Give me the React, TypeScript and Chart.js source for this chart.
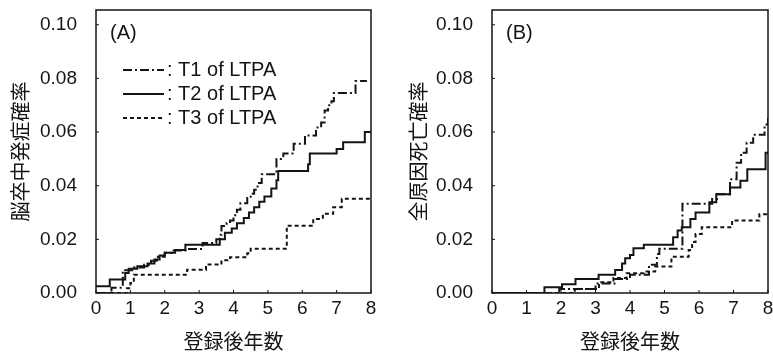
import React, { useEffect, useRef } from "react";
import { Chart, registerables } from "chart.js";
Chart.register(...registerables);

// ---- axes ----
const xTicks = [0, 1, 2, 3, 4, 5, 6, 7, 8];
const yTicks = [0, 0.02, 0.04, 0.06, 0.08, 0.1];
const xTitle = "登録後年数";
const yTitleA = "脳卒中発症確率";
const yTitleB = "全原因死亡確率";
const panelA = "(A)";
const panelB = "(B)";
const seriesLabels = ["T1 of LTPA", "T2 of LTPA", "T3 of LTPA"];

// ---- Panel A: stroke incidence ----
const aT1x = [0, 0.45, 0.78, 1.1, 1.4, 1.6, 1.8, 2.0, 2.2, 2.6, 3.1, 3.5, 3.6, 3.65, 3.8, 3.9, 4.0, 4.1, 4.2, 4.4, 4.5, 4.6, 4.7, 4.82, 5.25, 5.45, 5.75, 6.08, 6.4, 6.55, 6.65, 6.75, 6.85, 6.92, 7.55, 7.88];
const aT1y = [0, 0.002, 0.0085, 0.0095, 0.0105, 0.012, 0.0135, 0.015, 0.0158, 0.0164, 0.0186, 0.02, 0.0217, 0.025, 0.026, 0.027, 0.029, 0.031, 0.0335, 0.0354, 0.037, 0.0385, 0.041, 0.0443, 0.05, 0.052, 0.0556, 0.0587, 0.0617, 0.0636, 0.068, 0.07, 0.0715, 0.0746, 0.079, 0.079];
const aT2x = [0, 0.4, 0.85, 0.95, 1.2, 1.5, 1.7, 1.85, 2.0, 2.3, 2.6, 3.6, 3.75, 3.95, 4.1, 4.3, 4.45, 4.6, 4.75, 4.9, 5.1, 5.25, 5.3, 6.17, 6.22, 7.0, 7.19, 7.82, 8];
const aT2y = [0.0025, 0.005, 0.0075, 0.009, 0.01, 0.011, 0.0125, 0.014, 0.015, 0.016, 0.018, 0.02, 0.0225, 0.024, 0.026, 0.028, 0.03, 0.032, 0.034, 0.036, 0.039, 0.042, 0.0455, 0.048, 0.052, 0.0537, 0.0562, 0.06, 0.06];
const aT3x = [0, 0.9, 1.0, 1.1, 2.65, 3.2, 3.65, 3.9, 4.4, 4.5, 5.55, 6.32, 6.6, 6.9, 7.15, 8];
const aT3y = [0, 0.0018, 0.0037, 0.0068, 0.0087, 0.0106, 0.0122, 0.0133, 0.0148, 0.0165, 0.0251, 0.0276, 0.0295, 0.032, 0.0351, 0.0351];

// ---- Panel B: all-cause mortality ----
const bT1x = [0, 1.95, 3.0, 3.55, 4.0, 4.55, 4.78, 4.85, 5.52, 6.38, 6.52, 6.9, 7.09, 7.22, 7.38, 7.57, 7.9, 8];
const bT1y = [0, 0.0015, 0.0035, 0.0052, 0.0068, 0.0105, 0.0145, 0.0165, 0.0333, 0.035, 0.0368, 0.0424, 0.0486, 0.0523, 0.056, 0.059, 0.0628, 0.0654];
const bT2x = [0, 1.52, 2.03, 2.42, 3.09, 3.57, 3.77, 3.86, 4.0, 4.1, 4.4, 5.25, 5.38, 5.5, 5.75, 5.9, 6.3, 6.5, 6.9, 7.2, 7.4, 7.93, 8];
const bT2y = [0, 0.0021, 0.0033, 0.0052, 0.0068, 0.0086, 0.011, 0.013, 0.0142, 0.0167, 0.018, 0.0208, 0.0233, 0.0245, 0.0276, 0.03, 0.0338, 0.0368, 0.0393, 0.0418, 0.0461, 0.0523, 0.0523];
const bT3x = [0, 2.4, 3.1, 3.52, 3.9, 4.4, 4.73, 5.2, 5.7, 5.8, 5.9, 6.08, 6.96, 7.75, 8];
const bT3y = [0, 0.0015, 0.004, 0.0056, 0.0074, 0.008, 0.0099, 0.0135, 0.016, 0.019, 0.022, 0.0245, 0.027, 0.0294, 0.0294];

const INK = "#141414";
const FONT = "'Liberation Sans', Arial, sans-serif";
const CJK = "'Noto Sans CJK JP', sans-serif";
const dashes = [[9, 3, 2, 3], [], [4, 3]];

const pts = (xs: number[], ys: number[]) => xs.map((x, i) => ({ x, y: ys[i] }));

const framePlugin = {
  id: "frame",
  afterDraw(chart: any, _args: any, opts: any) {
    const { ctx, chartArea: a, scales } = chart;
    ctx.save();
    ctx.strokeStyle = INK;
    ctx.lineWidth = 1.5;
    ctx.setLineDash([]);
    ctx.strokeRect(a.left, a.top, a.right - a.left, a.bottom - a.top);
    ctx.lineWidth = 1;
    scales.x.ticks.forEach((t: any) => {
      const px = scales.x.getPixelForValue(t.value);
      ctx.beginPath();
      ctx.moveTo(px, a.bottom);
      ctx.lineTo(px, a.bottom - 3);
      ctx.stroke();
    });
    scales.y.ticks.forEach((t: any) => {
      const py = scales.y.getPixelForValue(t.value);
      ctx.beginPath();
      ctx.moveTo(a.left, py);
      ctx.lineTo(a.left + 3, py);
      ctx.stroke();
    });
    ctx.fillStyle = INK;
    ctx.textBaseline = "middle";
    ctx.textAlign = "left";
    ctx.font = `20px ${FONT}`;
    ctx.fillText(opts.panel, a.left + 14, a.top + 23);
    if (opts.legend) {
      ctx.font = `20px ${FONT}`;
      chart.data.datasets.forEach((ds: any, i: number) => {
        const y = a.top + 60 + i * 24;
        ctx.lineWidth = 2;
        ctx.setLineDash(ds.borderDash || []);
        ctx.beginPath();
        ctx.moveTo(a.left + 27, y);
        ctx.lineTo(a.left + 68, y);
        ctx.stroke();
        ctx.setLineDash([]);
        ctx.fillText(": " + ds.label, a.left + 71, y);
      });
    }
    ctx.restore();
  },
};

function Panel(props: {
  series: { x: number[]; y: number[] }[];
  yTitle: string;
  panel: string;
  legend: boolean;
  width: number;
  yWidth: number;
  rightPad: number;
  titlePad: number;
}) {
  const ref = useRef<HTMLCanvasElement>(null);
  useEffect(() => {
    const chart = new Chart(ref.current as HTMLCanvasElement, {
      type: "line",
      data: {
        datasets: props.series.map((s, i) => ({
          label: seriesLabels[i],
          data: pts(s.x, s.y),
          borderColor: INK,
          borderWidth: 2,
          borderDash: dashes[i],
          stepped: "before" as const,
          pointRadius: 0,
          fill: false,
        })),
      },
      options: {
        responsive: false,
        animation: false,
        layout: { padding: { top: 10, right: props.rightPad, left: 0, bottom: 0 } },
        plugins: {
          legend: { display: false },
          tooltip: { enabled: false },
          frame: { panel: props.panel, legend: props.legend },
        } as any,
        scales: {
          x: {
            type: "linear",
            min: 0,
            max: 8,
            grid: { display: false },
            border: { display: false },
            afterBuildTicks: (s: any) => {
              s.ticks = xTicks.map((v) => ({ value: v }));
            },
            afterFit: (s: any) => {
              s.height = 60;
              s.paddingLeft = 0;
              s.paddingRight = 0;
            },
            ticks: {
              color: INK,
              padding: -4,
              maxRotation: 0,
              font: { family: FONT, size: 19 },
              callback: (v: any) => String(v),
            },
            title: {
              display: true,
              text: xTitle,
              color: INK,
              padding: { top: 0, bottom: 0 },
              font: { family: CJK, size: 20 },
            },
          },
          y: {
            type: "linear",
            min: 0,
            max: 0.1055,
            grid: { display: false },
            border: { display: false },
            afterBuildTicks: (s: any) => {
              s.ticks = yTicks.map((v) => ({ value: v }));
            },
            afterFit: (s: any) => {
              s.width = props.yWidth;
              s.paddingTop = 0;
              s.paddingBottom = 0;
            },
            ticks: {
              color: INK,
              padding: 11,
              font: { family: FONT, size: 19 },
              callback: (v: any) => Number(v).toFixed(2),
            },
            title: {
              display: true,
              text: props.yTitle,
              color: INK,
              padding: { top: props.titlePad, bottom: 0 },
              font: { family: CJK, size: 20 },
            },
          },
        },
      },
      plugins: [framePlugin],
    });
    return () => chart.destroy();
  }, []);
  return <canvas ref={ref} width={props.width} height={353} style={{ display: "block" }} />;
}

export default function App() {
  return (
    <div
      style={{
        position: "absolute",
        left: 0,
        top: 0,
        width: 773,
        height: 353,
        background: "#fff",
        display: "flex",
      }}
    >
      <Panel
        series={[
          { x: aT1x, y: aT1y },
          { x: aT2x, y: aT2y },
          { x: aT3x, y: aT3y },
        ]}
        yTitle={yTitleA}
        panel={panelA}
        legend={true}
        width={386}
        yWidth={96}
        rightPad={15}
        titlePad={8}
      />
      <Panel
        series={[
          { x: bT1x, y: bT1y },
          { x: bT2x, y: bT2y },
          { x: bT3x, y: bT3y },
        ]}
        yTitle={yTitleB}
        panel={panelB}
        legend={false}
        width={387}
        yWidth={106}
        rightPad={5}
        titlePad={20}
      />
    </div>
  );
}
